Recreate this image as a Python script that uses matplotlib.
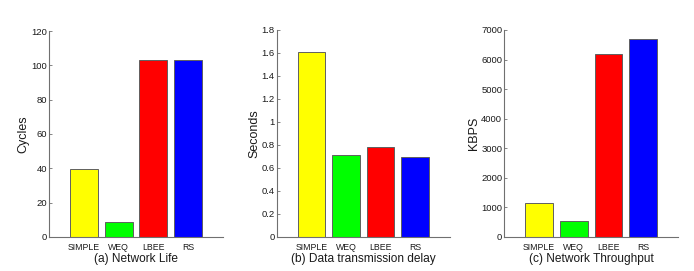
import matplotlib
matplotlib.use("Agg")
import matplotlib.pyplot as plt

plt.rcParams['font.family'] = ['Liberation Sans', 'DejaVu Sans']

categories = ["SIMPLE", "WEQ", "LBEE", "RS"]
colors = ["#ffff00", "#00ff00", "#ff0000", "#0000ff"]

life = [39.4, 8.7, 103.2, 103.3]
delay = [1.606, 0.713, 0.780, 0.698]
throughput = [1140, 552, 6200, 6706]

panels = [
    dict(vals=life, ylabel="Cycles", xlabel="(a) Network Life",
         ylim=(0, 120), yticks=[0, 20, 40, 60, 80, 100, 120],
         yticklabels=["0", "20", "40", "60", "80", "100", "120"],
         rect=[0.0706, 0.1255, 0.2507, 0.7601]),
    dict(vals=delay, ylabel="Seconds", xlabel="(b) Data transmission delay",
         ylim=(0, 1.8), yticks=[0, 0.2, 0.4, 0.6, 0.8, 1.0, 1.2, 1.4, 1.6, 1.8],
         yticklabels=["0", "0.2", "0.4", "0.6", "0.8", "1", "1.2", "1.4", "1.6", "1.8"],
         rect=[0.3991, 0.1255, 0.2486, 0.7638]),
    dict(vals=throughput, ylabel="KBPS", xlabel="(c) Network Throughput",
         ylim=(0, 7000), yticks=[0, 1000, 2000, 3000, 4000, 5000, 6000, 7000],
         yticklabels=["0", "1000", "2000", "3000", "4000", "5000", "6000", "7000"],
         rect=[0.7267, 0.1255, 0.2499, 0.7638]),
]

fig = plt.figure(figsize=(6.94, 2.71), dpi=100)
fig.patch.set_facecolor("white")
axis_col = "#707070"
text_col = "#1a1a1a"

for p in panels:
    ax = fig.add_axes(p["rect"])
    x = list(range(1, len(categories) + 1))
    ax.bar(x, p["vals"], width=0.8, color=colors, edgecolor="#606060", linewidth=0.7)
    ax.set_xlim(0, 5)
    ax.set_ylim(*p["ylim"])
    ax.set_yticks(p["yticks"])
    ax.set_yticklabels(p["yticklabels"])
    ax.set_xticks(x)
    ax.set_xticklabels(categories)
    for s in ["top", "right"]:
        ax.spines[s].set_visible(False)
    for s in ["left", "bottom"]:
        ax.spines[s].set_color(axis_col)
        ax.spines[s].set_linewidth(0.8)
    ax.tick_params(axis="y", direction="in", length=2.5, width=0.6, colors=axis_col,
                   labelcolor=text_col, labelsize=6.8, pad=1.5)
    ax.tick_params(axis="x", length=0, labelcolor=text_col, labelsize=6.3, pad=4)
    ax.set_ylabel(p["ylabel"], fontsize=9, color=text_col, labelpad=1)
    ax.set_xlabel(p["xlabel"], fontsize=8.6, color=text_col, labelpad=1)

fig.savefig("out.png", dpi=100, facecolor="white")
